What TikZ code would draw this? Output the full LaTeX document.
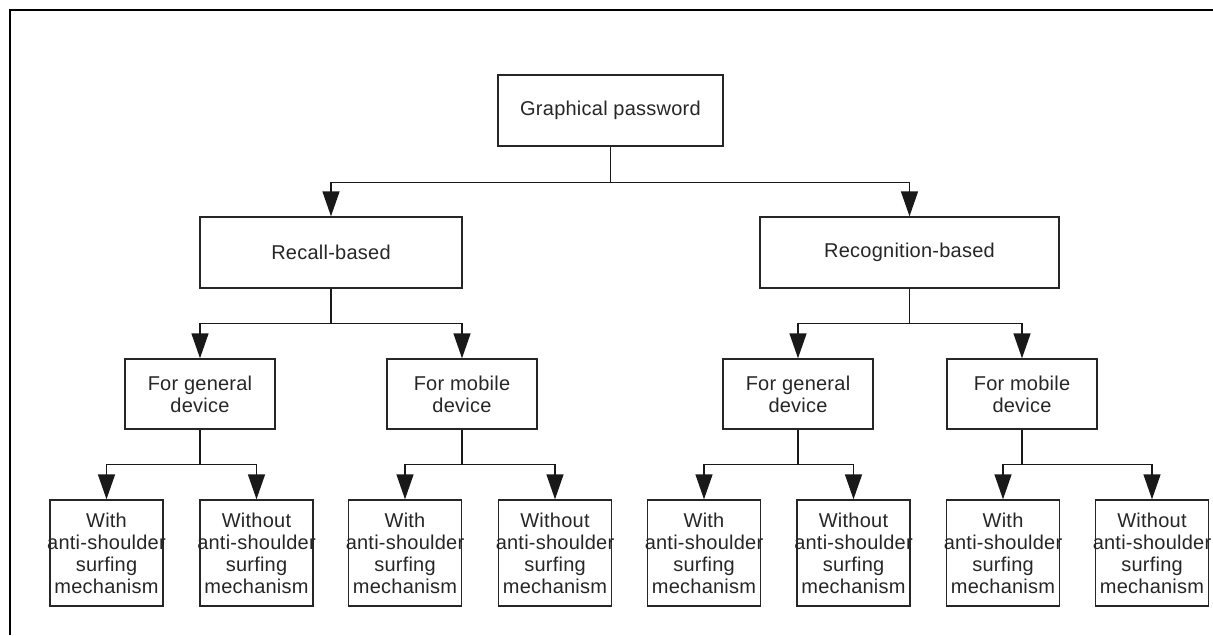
\documentclass[tikz,border=0pt]{standalone}
\usepackage{fontspec}
\setmainfont[LetterSpace=1.2]{Liberation Sans}
\usetikzlibrary{arrows.meta}
\newcommand{\ol}[1]{\makebox[0pt]{#1}}
\begin{document}
\begin{tikzpicture}[x=1pt,y=-1pt,
  box/.style={draw=black!85, line width=1.4pt, rectangle, inner sep=0pt, align=center,
    text=black!85, font=\fontsize{20}{22}\selectfont},
  leafbox/.style={box, minimum width=113pt, minimum height=106pt},
  midbox/.style={box, minimum width=150pt, minimum height=70pt},
  conn/.style={draw=black!90, line width=1.5pt, -{Triangle[width=17pt,length=25pt]}}
]
\useasboundingbox (0,0) rectangle (1213,635);
\draw[line width=2.6pt] (10,635) -- (10,10) -- (1213,10);

\node[box, minimum width=225pt, minimum height=71pt] (top) at (610.5,110.5) {Graphical password};
\node[box, minimum width=262pt, minimum height=71pt] (rec) at (331,252.5) {Recall-based};
\node[box, minimum width=299pt, minimum height=71pt] (rcg) at (909.5,252.5) {Recognition-based};

\node[midbox] (rg) at (200,394) {For general\\device};
\node[midbox] (rm) at (462,394) {For mobile\\device};
\node[midbox] (cg) at (798,394) {For general\\device};
\node[midbox] (cm) at (1022,394) {For mobile\\device};

\node[leafbox] (l1) at (106.5,553) {\ol{With}\\\ol{anti-shoulder}\\\ol{surfing}\\\ol{mechanism}};
\node[leafbox] (l2) at (256.5,553) {\ol{Without}\\\ol{anti-shoulder}\\\ol{surfing}\\\ol{mechanism}};
\node[leafbox] (l3) at (405,553) {\ol{With}\\\ol{anti-shoulder}\\\ol{surfing}\\\ol{mechanism}};
\node[leafbox] (l4) at (555,553) {\ol{Without}\\\ol{anti-shoulder}\\\ol{surfing}\\\ol{mechanism}};
\node[leafbox] (l5) at (704,553) {\ol{With}\\\ol{anti-shoulder}\\\ol{surfing}\\\ol{mechanism}};
\node[leafbox] (l6) at (853.5,553) {\ol{Without}\\\ol{anti-shoulder}\\\ol{surfing}\\\ol{mechanism}};
\node[leafbox] (l7) at (1003,553) {\ol{With}\\\ol{anti-shoulder}\\\ol{surfing}\\\ol{mechanism}};
\node[leafbox] (l8) at (1152,553) {\ol{Without}\\\ol{anti-shoulder}\\\ol{surfing}\\\ol{mechanism}};

\draw[conn] (top.south) -- ++(0,36) -| (rec.north);
\draw[conn] (top.south) -- ++(0,36) -| (rcg.north);

\draw[conn] (rec.south) -- ++(0,35) -| (rg.north);
\draw[conn] (rec.south) -- ++(0,35) -| (rm.north);
\draw[conn] (rcg.south) -- ++(0,35) -| (cg.north);
\draw[conn] (rcg.south) -- ++(0,35) -| (cm.north);

\draw[conn] (rg.south) -- ++(0,35) -| (l1.north);
\draw[conn] (rg.south) -- ++(0,35) -| (l2.north);
\draw[conn] (rm.south) -- ++(0,35) -| (l3.north);
\draw[conn] (rm.south) -- ++(0,35) -| (l4.north);
\draw[conn] (cg.south) -- ++(0,35) -| (l5.north);
\draw[conn] (cg.south) -- ++(0,35) -| (l6.north);
\draw[conn] (cm.south) -- ++(0,35) -| (l7.north);
\draw[conn] (cm.south) -- ++(0,35) -| (l8.north);
\end{tikzpicture}
\end{document}
